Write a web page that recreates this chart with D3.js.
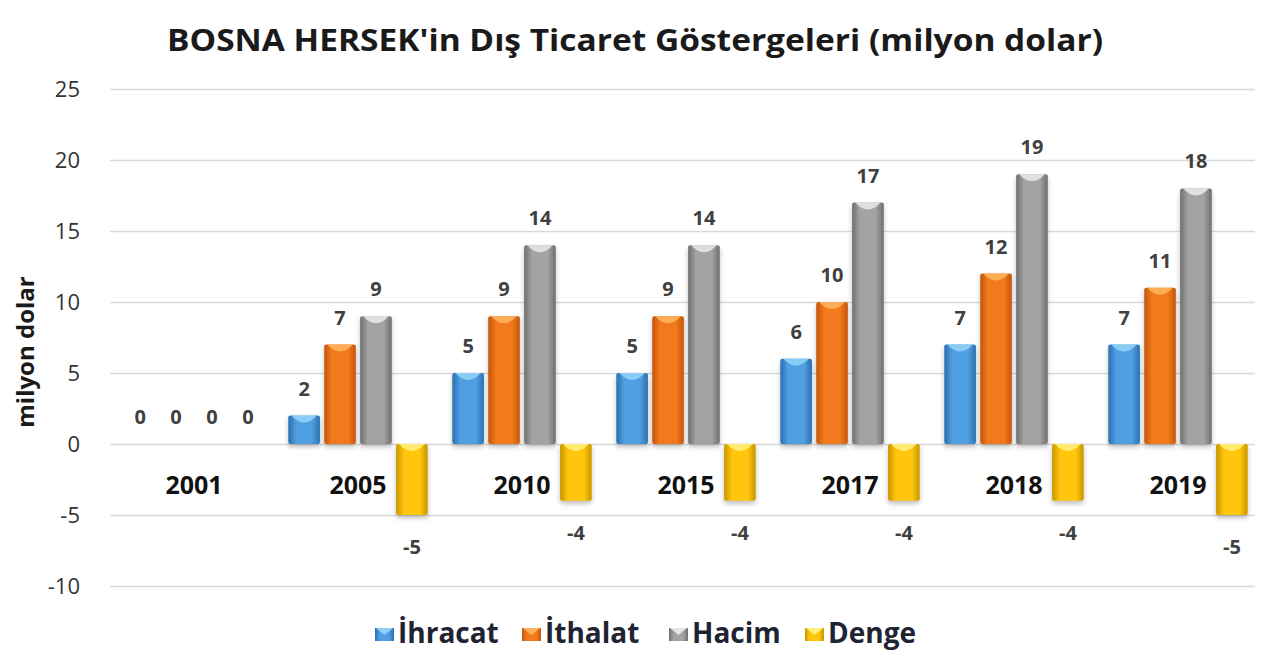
<!DOCTYPE html>
<html>
<head>
<meta charset="utf-8">
<script src="https://cdn.jsdelivr.net/npm/d3@7"></script>
<style>
  body { margin: 0; background: #ffffff; }
  text { font-family: "Open Sans", Lato, sans-serif; }
</style>
</head>
<body>
<div id="chart"></div>
<script>
//
// Data
//
var years   = ["2001", "2005", "2010", "2015", "2017", "2018", "2019"];
var ihracat = [0, 2, 5, 5, 6, 7, 7];
var ithalat = [0, 7, 9, 9, 10, 12, 11];
var hacim   = [0, 9, 14, 14, 17, 19, 18];
var denge   = [0, -5, -4, -4, -4, -4, -5];
var seriesNames = ["İhracat", "İthalat", "Hacim", "Denge"];
var yTicks = [-10, -5, 0, 5, 10, 15, 20, 25];

var colors = {
  "İhracat": ["#2a6fae", "#4f9fe2", "#8fd0f8"],
  "İthalat": ["#c4560c", "#f27a1a", "#ffb25e"],
  "Hacim":   ["#6e6e6e", "#a3a3a3", "#e6e6e6"],
  "Denge":   ["#c99500", "#ffc60a", "#fff07a"]
};

var W = 1272, H = 661;
var margin = {left: 112, right: 12};
var plotW = W - margin.left - margin.right;

var svg = d3.select("#chart").append("svg")
  .attr("width", W)
  .attr("height", H);

var defs = svg.append("defs");

// horizontal gradients give the bars a rounded look
seriesNames.forEach(function(s, i) {
  var g = defs.append("linearGradient")
    .attr("id", "grad" + i)
    .attr("x1", "0%").attr("x2", "100%").attr("y1", "0%").attr("y2", "0%");
  g.append("stop").attr("offset", "0%").attr("stop-color", colors[s][0]);
  g.append("stop").attr("offset", "25%").attr("stop-color", colors[s][1]);
  g.append("stop").attr("offset", "75%").attr("stop-color", colors[s][1]);
  g.append("stop").attr("offset", "100%").attr("stop-color", colors[s][0]);
});

var shadow = defs.append("filter").attr("id", "shadow")
  .attr("x", "-20%").attr("y", "-10%").attr("width", "140%").attr("height", "130%");
shadow.append("feDropShadow")
  .attr("dx", 0).attr("dy", 3).attr("stdDeviation", 2.5)
  .attr("flood-color", "#000").attr("flood-opacity", 0.25);

//
// scales
//
var y = d3.scaleLinear().domain([-10, 25]).range([586, 89]);
var x0 = d3.scaleBand().domain(years).range([margin.left, margin.left + plotW]).paddingInner(0.15).paddingOuter(0.075);
var x1 = d3.scaleBand().domain(seriesNames).range([0, x0.bandwidth()]).paddingInner(0.12);

//
// title
//
svg.append("text")
  .attr("x", 167)
  .attr("y", 51)
  .attr("textLength", 936)
  .attr("lengthAdjust", "spacingAndGlyphs")
  .style("font-size", "31px")
  .style("font-weight", "bold")
  .style("fill", "#1a1a1a")
  .text("BOSNA HERSEK'in Dış Ticaret Göstergeleri (milyon dolar)");

//
// grid lines and y axis labels
//
var yAxis = d3.axisLeft(y)
  .tickValues(yTicks)
  .tickFormat(function(d) { return String(d); })
  .tickSize(-(1255 - 110))
  .tickPadding(30);
var axisY = svg.append("g")
  .attr("transform", "translate(110,0)")
  .call(yAxis);
axisY.select(".domain").remove();
axisY.selectAll("line").attr("stroke", "#d9d9d9").attr("stroke-width", 1.5);
axisY.selectAll("text")
  .style("font-size", "22px")
  .style("fill", "#333")
  .style("font-family", "'Open Sans', sans-serif");

svg.append("text")
  .attr("transform", "translate(34,352) rotate(-90)")
  .attr("text-anchor", "middle")
  .style("font-size", "24px")
  .style("font-weight", "bold")
  .style("fill", "#1a1a1a")
  .text("milyon dolar");

//
// bars
//
var table = years.map(function(yr, i) {
  return {year: yr, values: [
    {name: "İhracat", v: ihracat[i]},
    {name: "İthalat", v: ithalat[i]},
    {name: "Hacim", v: hacim[i]},
    {name: "Denge", v: denge[i]}
  ]};
});

var groups = svg.selectAll(".grp")
  .data(table)
  .enter().append("g")
  .attr("class", "grp")
  .attr("transform", function(d) { return "translate(" + x0(d.year) + ",0)"; });

// category labels sit just under the zero line
groups.append("text")
  .attr("x", x0.bandwidth() / 2)
  .attr("y", y(0) + 50)
  .attr("text-anchor", "middle")
  .style("font-size", "25px")
  .style("font-weight", "bold")
  .style("fill", "#111")
  .text(function(d) { return d.year; });

var bars = groups.selectAll(".bar")
  .data(function(d) { return d.values; })
  .enter().append("g")
  .attr("class", "bar");

bars.filter(function(d) { return d.v !== 0; })
  .append("rect")
  .attr("x", function(d) { return x1(d.name); })
  .attr("y", function(d) { return y(Math.max(0, d.v)); })
  .attr("width", x1.bandwidth())
  .attr("height", function(d) { return Math.abs(y(d.v) - y(0)); })
  .attr("rx", 2)
  .attr("fill", function(d) { return "url(#grad" + seriesNames.indexOf(d.name) + ")"; })
  .attr("filter", "url(#shadow)");

// lighter notch at the top of each bar
bars.filter(function(d) { return d.v !== 0; })
  .append("path")
  .attr("d", function(d) {
    var bx = x1(d.name), bw = x1.bandwidth(), top = y(Math.max(0, d.v));
    return "M" + (bx + 3) + "," + top + " L" + (bx + bw - 3) + "," + top +
      " Q" + (bx + bw / 2) + "," + (top + 14) + " " + (bx + 3) + "," + top + "Z";
  })
  .attr("fill", function(d) { return colors[d.name][2]; })
  .attr("opacity", 0.9);

// value labels
bars.append("text")
  .attr("x", function(d) { return x1(d.name) + x1.bandwidth() / 2; })
  .attr("y", function(d) { return d.v < 0 ? y(d.v) + 39 : y(d.v) - 20; })
  .attr("text-anchor", "middle")
  .style("font-size", "20px")
  .style("font-weight", "bold")
  .style("fill", "#404040")
  .text(function(d) { return d.v; });

//
// legend
//
var legendX = [375, 522, 669, 805];
var legend = svg.selectAll(".legend")
  .data(seriesNames)
  .enter().append("g")
  .attr("class", "legend")
  .attr("transform", function(d, i) { return "translate(" + legendX[i] + ",628)"; });

legend.append("rect")
  .attr("width", 19).attr("height", 13)
  .attr("fill", function(d, i) { return "url(#grad" + i + ")"; });

legend.append("path")
  .attr("d", "M1,0 L18,0 L9.5,7 Z")
  .attr("fill", function(d) { return colors[d][2]; });

legend.append("text")
  .attr("x", 23)
  .attr("y", 15)
  .style("font-size", "28px")
  .style("font-weight", "bold")
  .style("fill", "#1f2433")
  .text(function(d) { return d; });
</script>
</body>
</html>
